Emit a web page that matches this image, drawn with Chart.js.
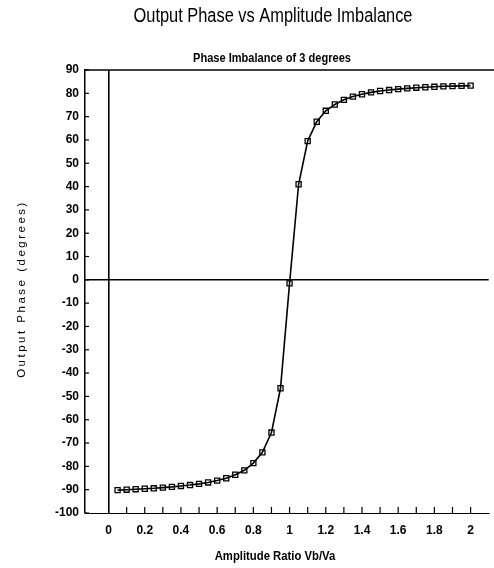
<!DOCTYPE html>
<html>
<head>
<meta charset="utf-8">
<script src="https://cdn.jsdelivr.net/npm/chart.js@4.4.1/dist/chart.umd.min.js"></script>
<style>
html,body{margin:0;padding:0;background:#fff;}
#wrap{width:494px;height:568px;position:relative;}
</style>
</head>
<body>
<div id="wrap"><canvas id="c" width="494" height="568" style="width:494px;height:568px"></canvas></div>
<script>
const chartTitle = 'Output Phase vs Amplitude Imbalance';
const chartSubtitle = 'Phase Imbalance of 3 degrees';
const xAxisTitle = 'Amplitude Ratio Vb/Va';
const yAxisTitle = 'Output Phase (degrees)';

const amplitudeRatio = [0.05, 0.10, 0.15, 0.20, 0.25, 0.30, 0.35, 0.40, 0.45, 0.50,
                        0.55, 0.60, 0.65, 0.70, 0.75, 0.80, 0.85, 0.90, 0.95, 1.00,
                        1.05, 1.10, 1.15, 1.20, 1.25, 1.30, 1.35, 1.40, 1.45, 1.50,
                        1.55, 1.60, 1.65, 1.70, 1.75, 1.80, 1.85, 1.90, 1.95, 2.00];
const outputPhase = [-90.2, -90.0, -89.8, -89.6, -89.4, -89.1, -88.8, -88.4, -88.0, -87.5,
                     -86.9, -86.1, -85.1, -83.6, -81.7, -78.6, -74.0, -65.5, -46.5, -1.5,
                     41.0, 59.5, 67.8, 72.5, 75.2, 77.2, 78.6, 79.6, 80.4, 81.0,
                     81.4, 81.8, 82.1, 82.4, 82.6, 82.8, 83.0, 83.1, 83.2, 83.3];

const xTickValues = [0, 0.2, 0.4, 0.6, 0.8, 1, 1.2, 1.4, 1.6, 1.8, 2];
const xMinorTickValues = [0.1, 0.2, 0.3, 0.4, 0.5, 0.6, 0.7, 0.8, 0.9, 1.0,
                          1.1, 1.2, 1.3, 1.4, 1.5, 1.6, 1.7, 1.8, 1.9, 2.0];
const yTickValues = [-100, -90, -80, -70, -60, -50, -40, -30, -20, -10, 0,
                     10, 20, 30, 40, 50, 60, 70, 80, 90];

const SANS = '"Liberation Sans", Arial, sans-serif';

function narrowText(ctx, text, x, y, font, squeeze) {
  ctx.save();
  ctx.font = font;
  ctx.textAlign = 'center';
  ctx.textBaseline = 'middle';
  ctx.translate(x, y);
  ctx.scale(squeeze, 1);
  ctx.fillText(text, 0, 0);
  ctx.restore();
}

const decorPlugin = {
  id: 'decor',
  afterDraw(chart) {
    const ctx = chart.ctx;
    const xs = chart.scales.x, ys = chart.scales.y;
    const area = chart.chartArea;
    ctx.save();
    ctx.strokeStyle = '#000';
    // top frame line
    ctx.lineWidth = 1.5;
    ctx.beginPath();
    ctx.moveTo(area.left, area.top);
    ctx.lineTo(chart.width, area.top);
    ctx.stroke();
    // inside tick marks on y axis
    ctx.lineWidth = 1.2;
    yTickValues.forEach(v => {
      const py = ys.getPixelForValue(v);
      ctx.beginPath();
      ctx.moveTo(area.left, py);
      ctx.lineTo(area.left + 4, py);
      ctx.stroke();
    });
    // inside minor tick marks on x axis
    xMinorTickValues.forEach(v => {
      const px = xs.getPixelForValue(v);
      ctx.beginPath();
      ctx.moveTo(px, area.bottom);
      ctx.lineTo(px, area.bottom - 6);
      ctx.stroke();
    });
    ctx.fillStyle = '#000';
    narrowText(ctx, chartTitle, 273, 16, '20px ' + SANS, 0.82);
    narrowText(ctx, chartSubtitle, 272, 58, 'bold 13px ' + SANS, 0.85);
    narrowText(ctx, xAxisTitle, 275, 556, 'bold 13px ' + SANS, 0.87);
    // y axis title
    ctx.textAlign = 'center';
    ctx.textBaseline = 'middle';
    ctx.translate(22, 289);
    ctx.rotate(-Math.PI / 2);
    ctx.font = '11.5px ' + SANS;
    try { ctx.letterSpacing = '2.5px'; } catch (e) {}
    ctx.fillText(yAxisTitle, 0, 0);
    ctx.restore();
  }
};

new Chart(document.getElementById('c'), {
  type: 'line',
  data: {
    datasets: [{
      data: amplitudeRatio.map((x, i) => ({x: x, y: outputPhase[i]})),
      borderColor: '#000',
      borderWidth: 1.6,
      backgroundColor: 'rgba(0,0,0,0)',
      pointStyle: 'rect',
      pointRadius: 3.6,
      pointBorderWidth: 1.3,
      pointBorderColor: '#000',
      pointBackgroundColor: 'rgba(0,0,0,0)',
      tension: 0,
      fill: false
    }]
  },
  options: {
    responsive: false,
    animation: false,
    layout: {padding: {top: 70, left: 0, right: 1, bottom: 0}},
    plugins: {legend: {display: false}, tooltip: {enabled: false}, title: {display: false}},
    scales: {
      x: {
        type: 'linear',
        min: -0.13,
        max: 2.1,
        afterBuildTicks: axis => { axis.ticks = xTickValues.map(v => ({value: v})); },
        afterFit: scale => { scale.height = 55; },
        ticks: {
          color: '#000',
          padding: 10,
          maxRotation: 0,
          autoSkip: false,
          font: {family: SANS, size: 12, weight: 'bold'},
          callback: v => String(v)
        },
        grid: {
          drawTicks: false,
          color: c => (c.tick && c.tick.value === 0) ? '#000' : 'rgba(0,0,0,0)',
          lineWidth: 1.6
        },
        border: {display: true, color: '#000', width: 1}
      },
      y: {
        type: 'linear',
        min: -100,
        max: 90,
        afterBuildTicks: axis => { axis.ticks = yTickValues.map(v => ({value: v})); },
        afterFit: scale => { scale.width = 85; },
        ticks: {
          color: '#000',
          padding: 6,
          autoSkip: false,
          font: {family: SANS, size: 12, weight: 'bold'},
          callback: v => String(v)
        },
        grid: {
          drawTicks: false,
          color: c => (c.tick && c.tick.value === 0) ? '#000' : 'rgba(0,0,0,0)',
          lineWidth: 1.5
        },
        border: {display: true, color: '#000', width: 1.5}
      }
    }
  },
  plugins: [decorPlugin]
});
</script>
</body>
</html>
